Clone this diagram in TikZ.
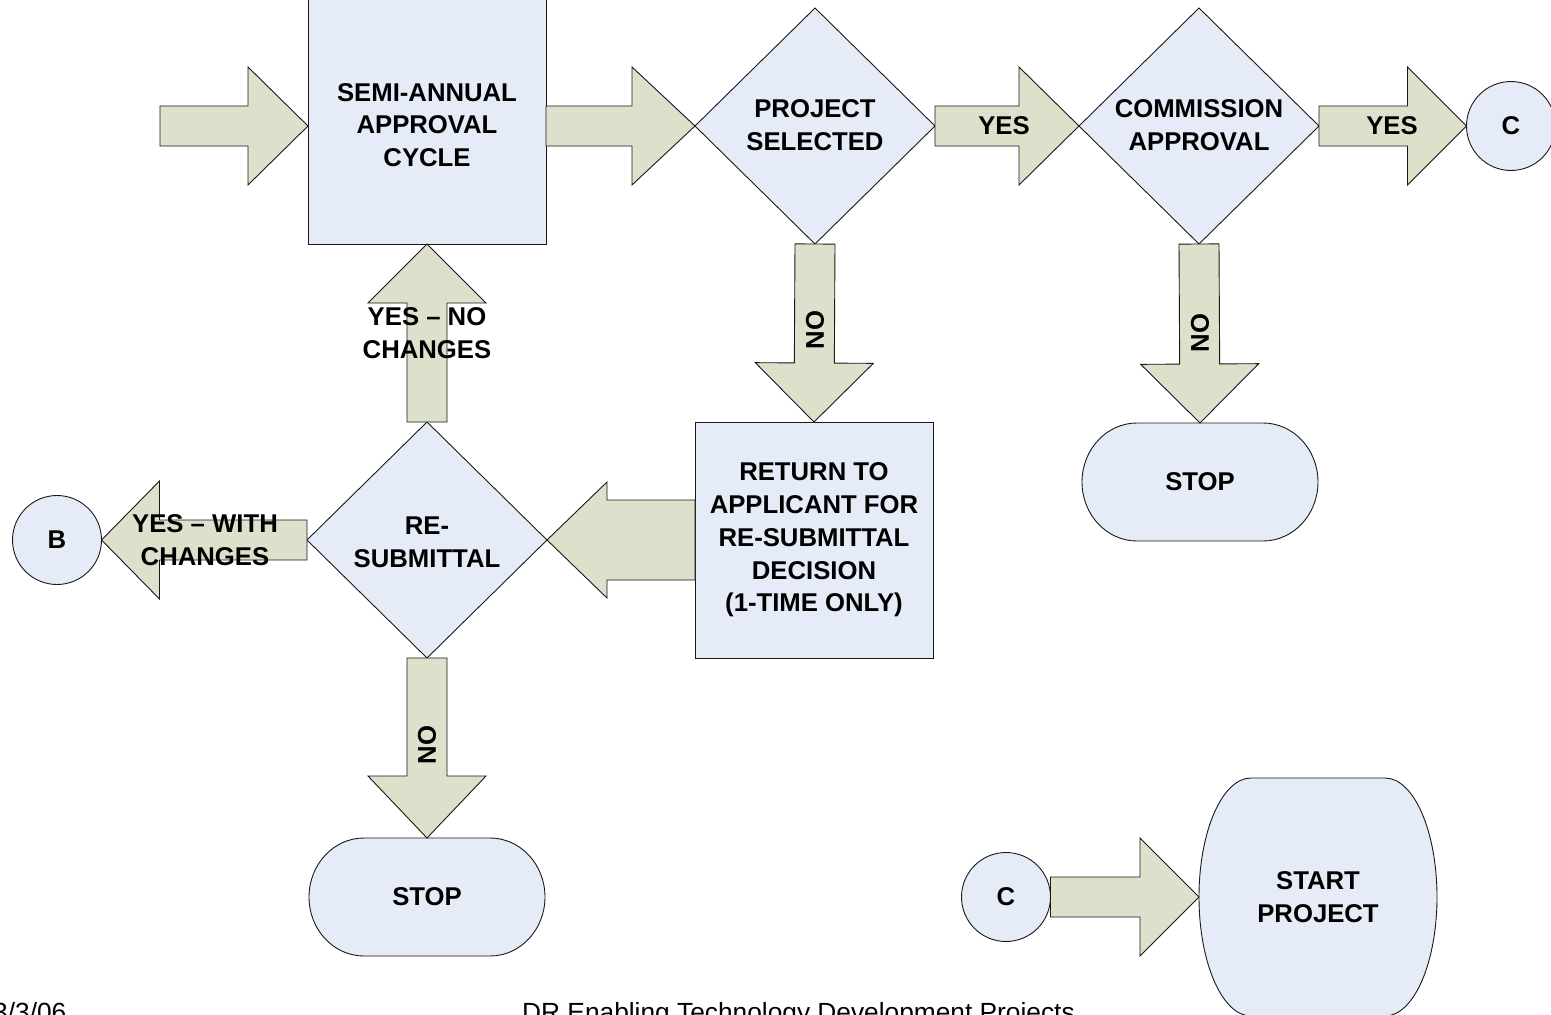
\documentclass[tikz,border=0pt]{standalone}
\usepackage{fontspec}
\setmainfont{Liberation Sans}
\usetikzlibrary{shapes.geometric,calc}
\definecolor{boxfill}{RGB}{230,236,247}
\definecolor{arrfill}{RGB}{221,224,203}
\definecolor{edgecol}{RGB}{25,25,25}
% block arrow: #1 start, #2 tip, #3 shaft half width, #4 head half width, #5 head length
\newcommand\blockarrow[5]{%
  \coordinate (ba-b) at ($(#2)!#5pt!(#1)$);
  \draw[barrow] ($(#1)!#3pt!90:(#2)$) -- ($(ba-b)!#3pt!90:(#2)$) -- ($(ba-b)!#4pt!90:(#2)$) -- (#2)
    -- ($(ba-b)!#4pt!-90:(#2)$) -- ($(ba-b)!#3pt!-90:(#2)$) -- ($(#1)!#3pt!-90:(#2)$) -- cycle;}
% terminator outline around node #1, end radii #2 (x) and #3 (y)
\newcommand\terminator[3]{%
  \draw[shapeline] ($(#1.north east)+(-#2,0)$) arc[start angle=90,end angle=-90,x radius=#2pt,y radius=#3pt]
    -- ($(#1.south west)+(#2,0)$) arc[start angle=270,end angle=90,x radius=#2pt,y radius=#3pt] -- cycle;}
\begin{document}
\begin{tikzpicture}[x=1pt,y=-1pt,
  shapeline/.style={draw=edgecol,fill=boxfill,line width=0.9pt},
  barrow/.style={draw=edgecol,fill=arrfill,line width=0.9pt,line join=miter},
  boxshape/.style={shapeline,rectangle,inner sep=0pt,outer sep=0pt,align=center,
    font=\fontsize{25.7}{32.7}\selectfont\bfseries},
  dshape/.style={shapeline,diamond,inner sep=0pt,outer sep=0pt,minimum width=240pt,minimum height=236pt},
  circ/.style={shapeline,circle,inner sep=0pt,outer sep=0pt,minimum size=89pt,
    font=\fontsize{25.7}{32.7}\selectfont\bfseries},
  termbox/.style={rectangle,inner sep=0pt,outer sep=0pt},
  lbl/.style={inner sep=0pt,align=center,font=\fontsize{25.7}{32.7}\selectfont\bfseries},
  foot/.style={inner sep=0pt,font=\fontsize{26.3}{30}\selectfont}]
\useasboundingbox (0,0) rectangle (1551,1015);
\clip (0,0) rectangle (1551,1015);
\fill[white] (0,0) rectangle (1551,1015);

% shapes
\node[boxshape,minimum width=238pt,minimum height=248pt] (semi) at (427,120) {};
\node[lbl] (semit) at (427,125) {SEMI-ANNUAL\\APPROVAL\\CYCLE};
\node[dshape] (psel) at (815,126) {};
\node[lbl] (pselt) at (815,125) {PROJECT\\SELECTED};
\node[dshape] (comm) at (1199,126) {};
\node[lbl] (commt) at (1199,125) {COMMISSION\\APPROVAL};
\node[circ] (c1) at (1511,126) {C};
\node[boxshape,minimum width=238pt,minimum height=236pt] (ret) at (814,540)
  {RETURN TO\\APPLICANT FOR\\RE-SUBMITTAL\\DECISION\\(1-TIME ONLY)};
\node[dshape] (resub) at (427,540) {};
\node[lbl] (resubt) at (427,542) {RE-\\SUBMITTAL};
\node[circ] (b) at (57,540) {B};
\node[termbox,minimum width=236pt,minimum height=118pt] (stop1) at (1200,482) {};
\terminator{stop1}{55}{59}
\node[lbl] (stop1t) at (stop1) {STOP};
\node[termbox,minimum width=236pt,minimum height=118pt] (stop2) at (427,897) {};
\terminator{stop2}{55}{59}
\node[lbl] (stop2t) at (stop2) {STOP};
\node[circ] (c2) at (1006,897) {C};
\node[termbox,minimum width=238pt,minimum height=238pt] (start) at (1318,897) {};
\terminator{start}{52}{119}
\node[lbl] (startt) at (start) {START\\PROJECT};

% connectors (block arrows)
\coordinate (in) at (160,126);
\coordinate (semiW) at (semi.west |- in);
\coordinate (semiE) at (semi.east |- in);
\blockarrow{in}{semiW}{20}{59}{60}
\blockarrow{semiE}{psel.west}{20}{59}{63}
\blockarrow{psel.east}{comm.west}{20}{59}{60}
\blockarrow{comm.east}{c1.west}{20}{59}{59}
\blockarrow{psel.south}{ret.north}{20}{59}{59}
\blockarrow{comm.south}{stop1.north}{20}{59}{59}
\blockarrow{ret.west}{resub.east}{40}{58}{60}
\blockarrow{resub.north}{semi.south}{20}{59}{59}
\blockarrow{resub.west}{b.east}{20}{59}{58}
\blockarrow{resub.south}{stop2.north}{20}{59}{62}
\blockarrow{c2.east}{start.west}{20}{59}{59}

% connector labels
\node[lbl] (yes1) at (1004,126) {YES};
\node[lbl] (yes2) at (1392,126) {YES};
\node[lbl,rotate=90] (no1) at (815,330) {NO};
\node[lbl,rotate=90] (no2) at (1200,333) {NO};
\node[lbl,rotate=90] (no3) at (427,745) {NO};
\node[lbl] (ync) at (427,333) {YES – NO\\CHANGES};
\node[lbl] (ywc) at (205,540) {YES – WITH\\CHANGES};

% footer (cut by the lower edge, as in the original)
\node[foot,anchor=base west] (date) at (-7,1021) {3/3/06};
\node[foot,anchor=base west] (title) at (522,1021) {DR Enabling Technology Development Projects};
\end{tikzpicture}
\end{document}
